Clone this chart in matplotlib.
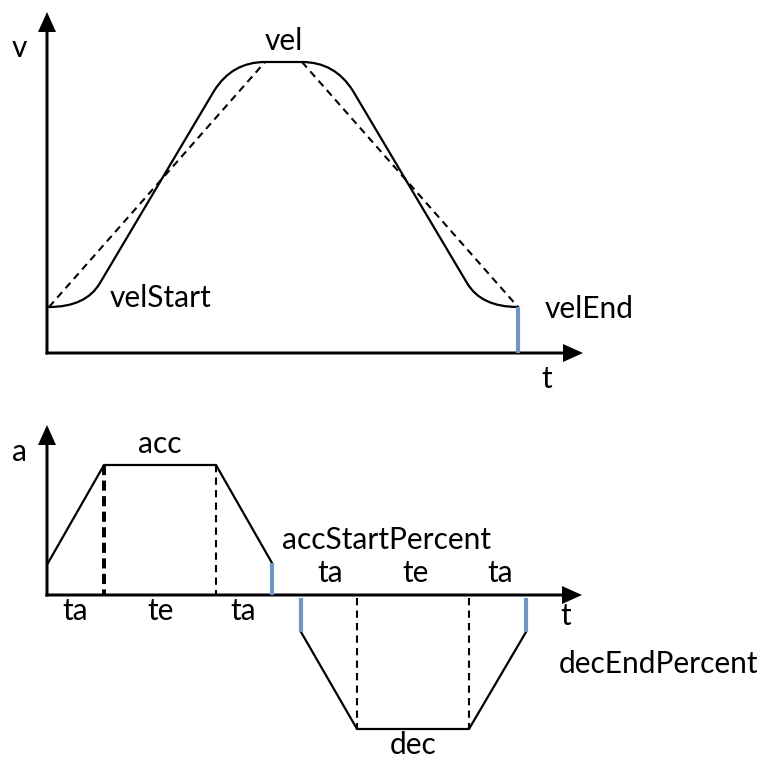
import matplotlib.pyplot as plt
from matplotlib.path import Path
from matplotlib.patches import PathPatch

# canvas coordinates are pixels of the original sketch (y grows downward)
W, H = 759, 760

## velocity diagram
v_origin = (47, 353)
v_axis_top = 12
v_axis_right = 583

# solid S-curve: straight pieces joined by rounded (quadratic) corners
vel_pts = [(49, 307), (86, 307), (100, 283), (214, 91), (232, 62), (265, 62),
           (302, 62), (335, 62), (353, 91), (467, 283), (481, 307), (518, 307)]
vel_codes = ['M', 'C', 'C', 'L', 'C', 'C', 'L', 'C', 'C', 'L', 'C', 'C']

# dashed trapezoid (no jerk limit)
vel_dash_x = [49, 265, None, 302, 518]
vel_dash_y = [307, 62, None, 62, 307]

vel_end_x = 518
vel_end_y = 307

## acceleration diagram
a_origin = (47, 595)
a_axis_top = 425
a_axis_right = 582

acc_x = [48, 104, 216, 272]
acc_y = [563, 465, 465, 563]
dec_x = [301, 357, 469, 526]
dec_y = [632, 729, 729, 632]

blue_marks = [(272, 563, 595), (301, 598, 632), (526, 598, 632)]

labels = [
    ('v', 12, 57), ('vel', 265, 50), ('velStart', 110, 307),
    ('velEnd', 545, 318), ('t', 541, 388),
    ('a', 12, 461), ('acc', 138, 453),
    ('ta', 62, 620), ('te', 147, 620), ('ta', 230, 620),
    ('accStartPercent', 282, 549),
    ('ta', 317, 582), ('te', 402, 582), ('ta', 487, 582),
    ('t', 560, 625), ('decEndPercent', 559, 673), ('dec', 390, 754),
]

blue = '#6f97c2'

fig = plt.figure(figsize=(W / 100, H / 100), dpi=100)
ax = fig.add_axes([0, 0, 1, 1])
ax.set_xlim(0, W)
ax.set_ylim(H, 0)
ax.set_aspect('equal')
ax.axis('off')


def axis_arrows(origin, top, right):
    x0, y0 = origin
    ax.arrow(x0, y0 + 1.5, 0, top - y0 - 1.5, width=3, head_width=18, head_length=20,
             length_includes_head=True, fc='black', ec='none', zorder=3)
    ax.arrow(x0 - 1.5, y0, right - x0 + 1.5, 0, width=3, head_width=18, head_length=20,
             length_includes_head=True, fc='black', ec='none', zorder=3)


axis_arrows(v_origin, v_axis_top, v_axis_right)
axis_arrows(a_origin, a_axis_top, a_axis_right)

# velocity curves
code_map = {'M': Path.MOVETO, 'L': Path.LINETO, 'C': Path.CURVE3}
path = Path(vel_pts, [code_map[c] for c in vel_codes])
ax.add_patch(PathPatch(path, fc='none', ec='black', lw=1.6, capstyle='round'))
for i in (0, 3):
    ax.plot(vel_dash_x[i:i + 2], vel_dash_y[i:i + 2], color='black', lw=1.5,
            linestyle=(0, (3.5, 2.5)))
ax.plot([vel_end_x, vel_end_x], [vel_end_y, v_origin[1]], color=blue, lw=3, zorder=4,
        solid_capstyle='butt')

# acceleration / deceleration trapezoids
ax.plot(acc_x, acc_y, color='black', lw=1.6)
ax.plot(dec_x, dec_y, color='black', lw=1.6)
ax.plot([acc_x[1], acc_x[1]], [acc_y[1], a_origin[1]], color='black', lw=2.8,
        linestyle=(0, (2.6, 1.4)))
ax.plot([acc_x[2], acc_x[2]], [acc_y[2], a_origin[1]], color='black', lw=1.5,
        linestyle=(0, (3.5, 2.5)))
for xd in dec_x[1:3]:
    ax.plot([xd, xd], [a_origin[1] + 3, dec_y[1]], color='black', lw=1.5,
            linestyle=(0, (3.5, 2.5)))
for xb, y1, y2 in blue_marks:
    ax.plot([xb, xb], [y1, y2], color=blue, lw=3, zorder=4, solid_capstyle='butt')

for txt, x, y in labels:
    ax.text(x, y, txt, fontsize=21.5, family='Lato', ha='left', va='baseline')

fig.savefig('out.png', dpi=100)
